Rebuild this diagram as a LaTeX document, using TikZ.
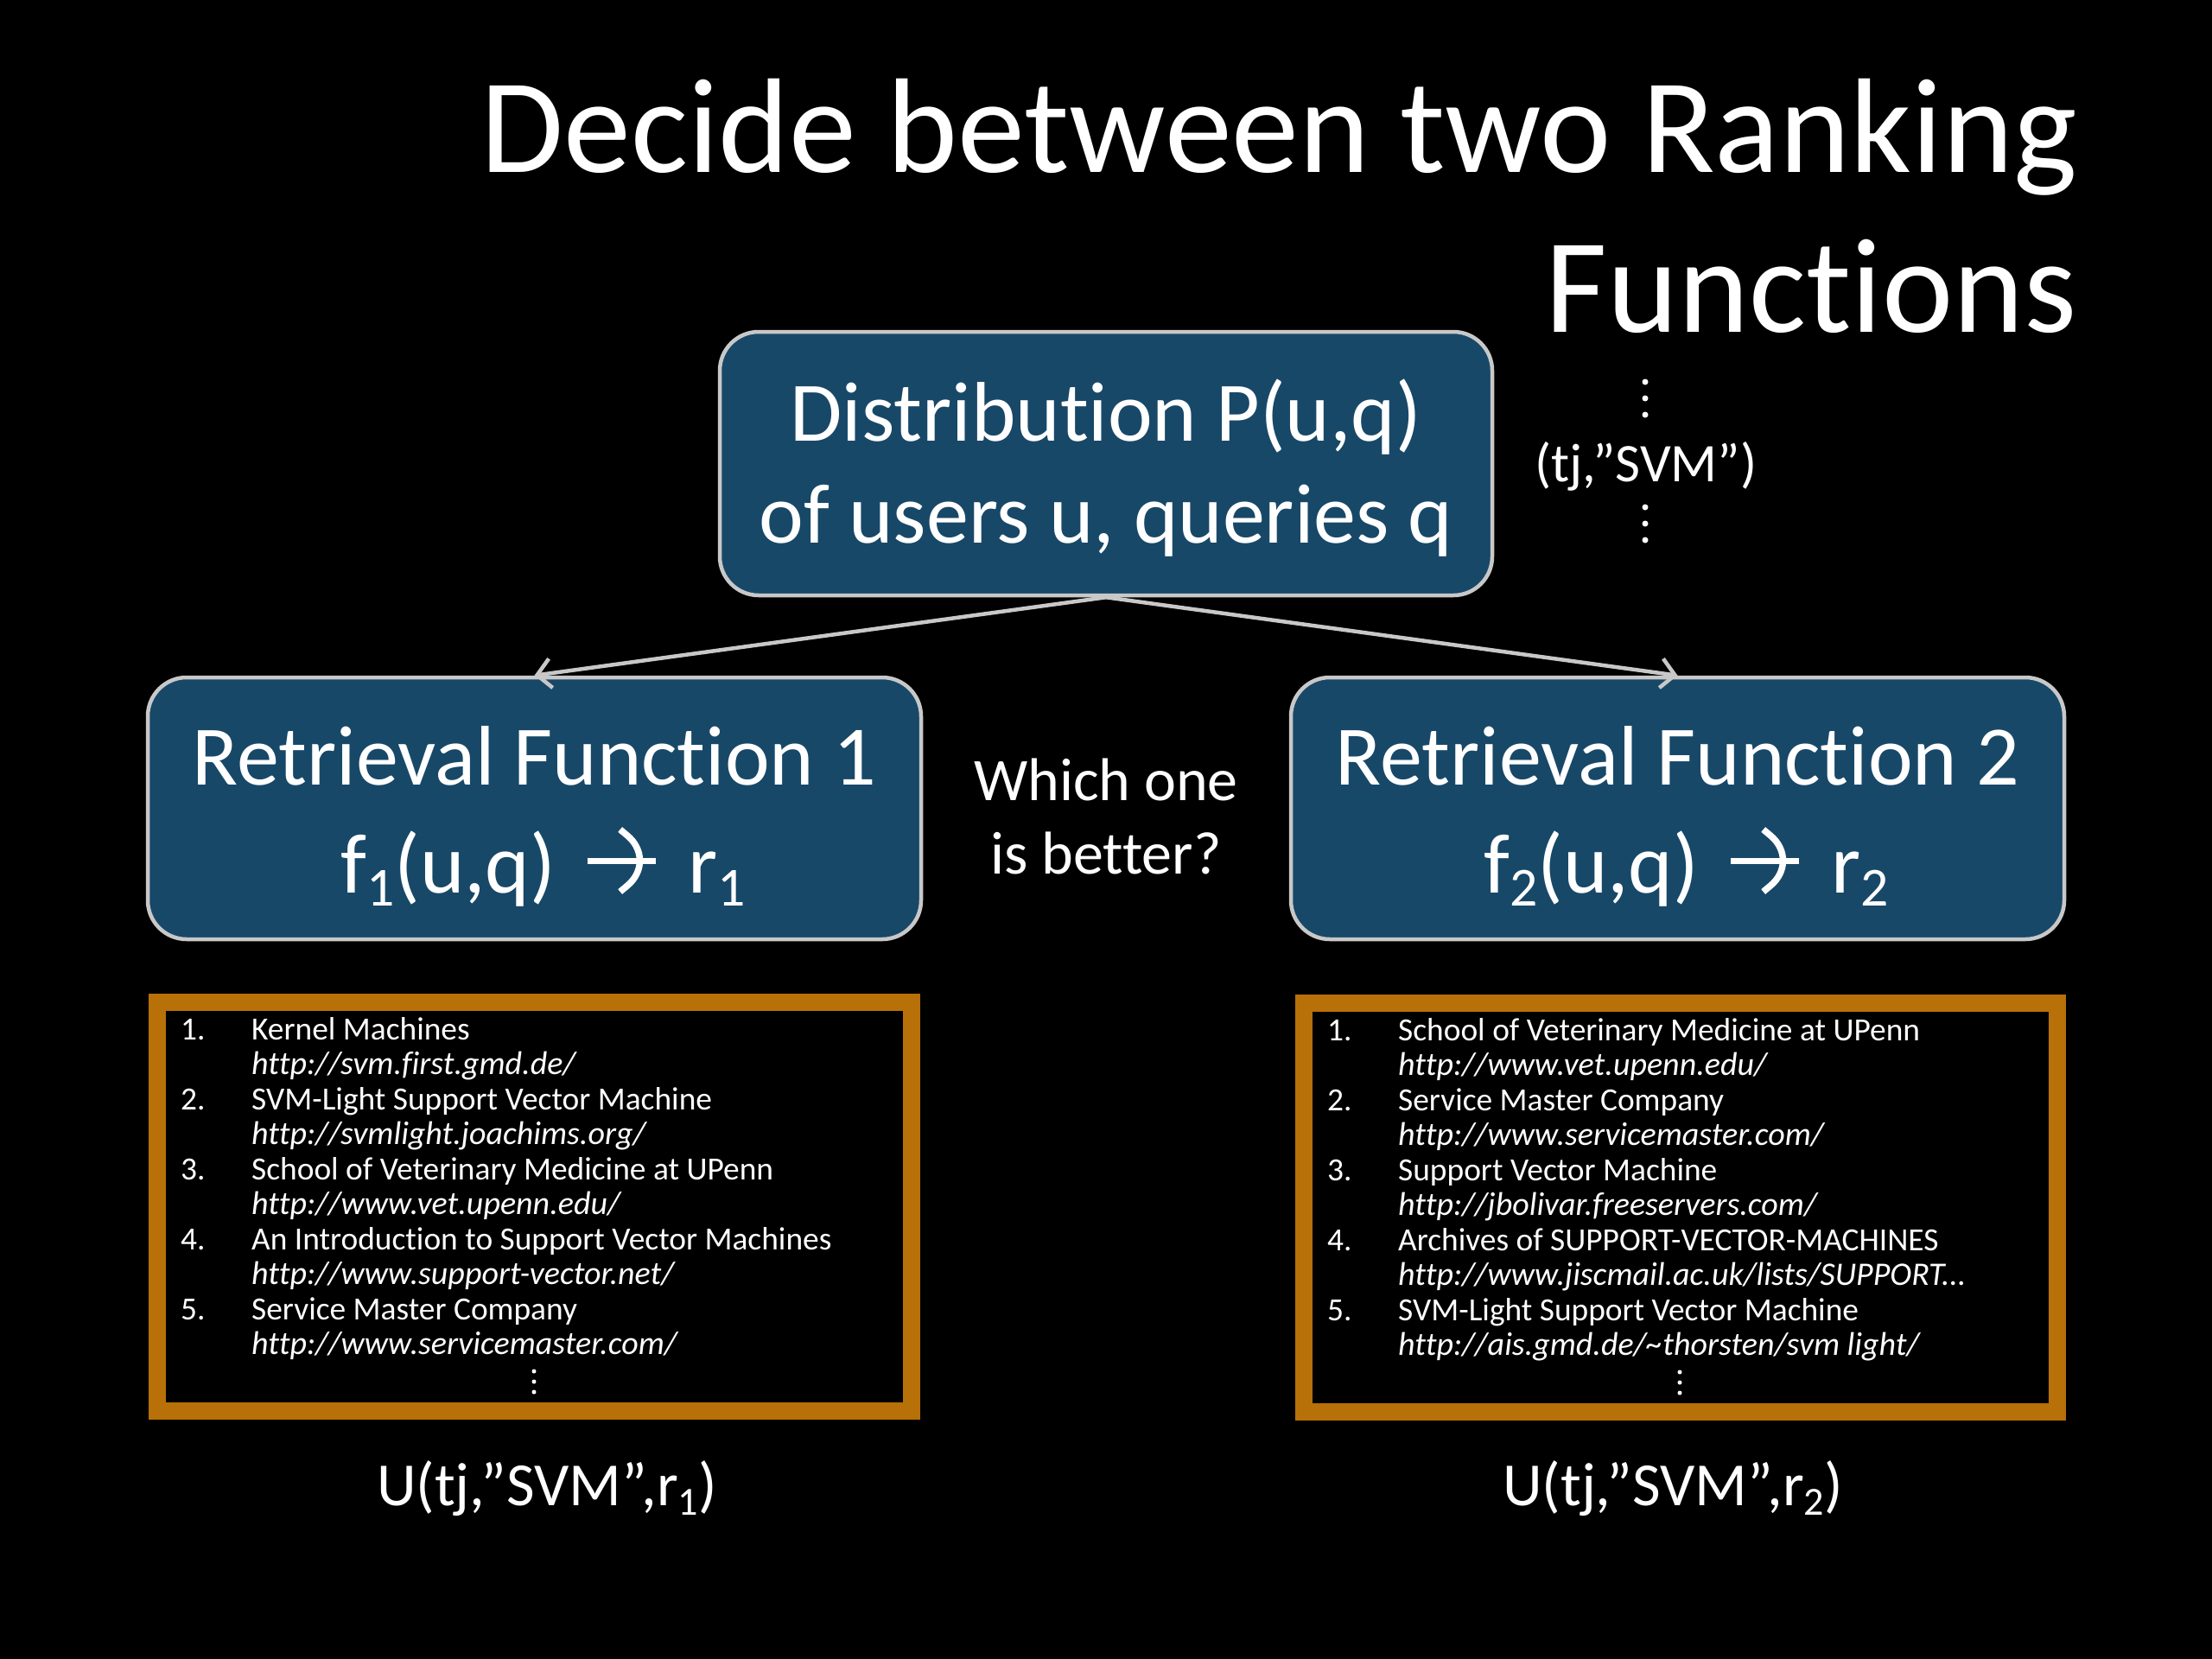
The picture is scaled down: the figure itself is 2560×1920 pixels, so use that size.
\documentclass[tikz,border=0pt]{standalone}
\usepackage{fontspec}
\setmainfont{Carlito}[Ligatures={TeX,NoCommon,NoContextual,NoRare},Contextuals=NoAlternate]
\usetikzlibrary{arrows.meta}
\definecolor{boxblue}{RGB}{24,72,104}
\definecolor{boxedge}{RGB}{200,200,200}
\definecolor{framebrown}{RGB}{184,112,8}
\newcommand\lowsub[1]{\raisebox{-0.16em}{\scalebox{0.65}{#1}}}
\newcommand\rarr{\hspace{33pt}\tikz[baseline=0pt,x=1pt,y=1pt]{\draw[white,line width=7pt] (0,37) -- (79,37); \draw[white,line width=7.5pt,line join=miter,miter limit=10] (38,73) -- (81,37) -- (38,1);}\hspace{32pt}}
\newcommand\nb[1]{\makebox[82pt][l]{#1}}
\newcommand\url[1]{{\fontsize{38}{40.5}\selectfont\itshape #1}}
\newcommand\tightlines{\lineskiplimit=-100pt\relax}
\begin{document}
\begin{tikzpicture}[x=1pt,y=-1pt,
  fnbox/.style={draw=boxedge, line width=4.5pt, fill=boxblue, rounded corners=45pt, text=white, align=center, inner sep=0pt},
  listframe/.style={draw=framebrown, line width=20pt, inner sep=0pt},
  listtext/.style={text=white, align=left, inner sep=0pt, anchor=north west, font=\fontsize{37.4}{40.5}\selectfont\tightlines},
  conn/.style={draw=boxedge, line width=4.5pt, -{Straight Barb[length=16pt,width=34pt]}},
  plain/.style={text=white, inner sep=0pt}
]
\fill[black] (0,0) rectangle (2560,1920);
\useasboundingbox (0,0) rectangle (2560,1920);

% title
\node[plain, align=right, anchor=north east, font=\fontsize{156}{185}\selectfont\tightlines] (title) at (2404,69) {\rule{0pt}{130pt}Decide between two Ranking\\Functions};

% boxes
\node[fnbox, minimum width=894pt, minimum height=305pt, font=\fontsize{98}{118}\selectfont\tightlines] (dist) at (1280,536.5) {\rule{0pt}{96pt}Distribution P(u,q)\\of users u, queries q\rule[-30pt]{0pt}{30pt}};
\node[fnbox, minimum width=895pt, minimum height=303pt, font=\fontsize{98}{125}\selectfont\tightlines] (rf1) at (618.5,935.5) {\rule{0pt}{100pt}Retrieval Function 1\\\hspace*{20pt}f\lowsub{1}(u,q)\rarr r\lowsub{1}\rule[-30pt]{0pt}{30pt}};
\node[fnbox, minimum width=895pt, minimum height=303pt, font=\fontsize{98}{125}\selectfont\tightlines] (rf2) at (1941.5,935.5) {\rule{0pt}{100pt}Retrieval Function 2\\\hspace*{20pt}f\lowsub{2}(u,q)\rarr r\lowsub{2}\rule[-30pt]{0pt}{30pt}};

\draw[conn] (dist.south) -- (rf1.north);
\draw[conn] (dist.south) -- (rf2.north);

% middle text
\node[plain, align=center, anchor=north, font=\fontsize{70}{85}\selectfont\tightlines] (which) at (1280,856) {\rule{0pt}{70pt}Which one\\is better?};

% side label
\node[plain, anchor=base, font=\fontsize{63}{74}\selectfont] (tjsvm) at (1905,557) {(tj,”SVM”)};
\foreach \yy in {442,461,480,587,606,625} \fill[white] (1904,\yy) circle (3.5pt);

% list frames
\node[listframe, minimum width=873pt, minimum height=473pt] (frame1) at (618.5,1396.5) {};
\node[listframe, minimum width=872pt, minimum height=473pt] (frame2) at (1945,1397.5) {};

\node[listtext] (list1) at (209,1173) {\rule{0pt}{30pt}\nb{1.}Kernel Machines\\
\nb{}\url{http://svm.first.gmd.de/}\\
\nb{2.}SVM-Light Support Vector Machine\\
\nb{}\url{http://svmlight.joachims.org/}\\
\nb{3.}School of Veterinary Medicine at UPenn\\
\nb{}\url{http://www.vet.upenn.edu/}\\
\nb{4.}An Introduction to Support Vector Machines\\
\nb{}\url{http://www.support-vector.net/}\\
\nb{5.}Service Master Company\\
\nb{}\url{http://www.servicemaster.com/}};
\foreach \yy in {1587,1599,1611} \fill[white] (618,\yy) circle (2.5pt);

\node[listtext] (list2) at (1536,1174) {\rule{0pt}{30pt}\nb{1.}School of Veterinary Medicine at UPenn\\
\nb{}\url{http://www.vet.upenn.edu/}\\
\nb{2.}Service Master Company\\
\nb{}\url{http://www.servicemaster.com/}\\
\nb{3.}Support Vector Machine\\
\nb{}\url{http://jbolivar.freeservers.com/}\\
\nb{4.}Archives of SUPPORT-VECTOR-MACHINES\\
\nb{}\url{http://www.jiscmail.ac.uk/lists/SUPPORT...}\\
\nb{5.}SVM-Light Support Vector Machine\\
\nb{}\url{http://ais.gmd.de/\textasciitilde thorsten/svm light/}};
\foreach \yy in {1588,1600,1612} \fill[white] (1944,\yy) circle (2.5pt);

% utility labels
\node[plain, anchor=base, font=\fontsize{71}{84}\selectfont] (u1) at (633,1742) {U(tj,”SVM”,r\lowsub{1})};
\node[plain, anchor=base, font=\fontsize{71}{84}\selectfont] (u2) at (1936,1742) {U(tj,”SVM”,r\lowsub{2})};
\end{tikzpicture}
\end{document}
